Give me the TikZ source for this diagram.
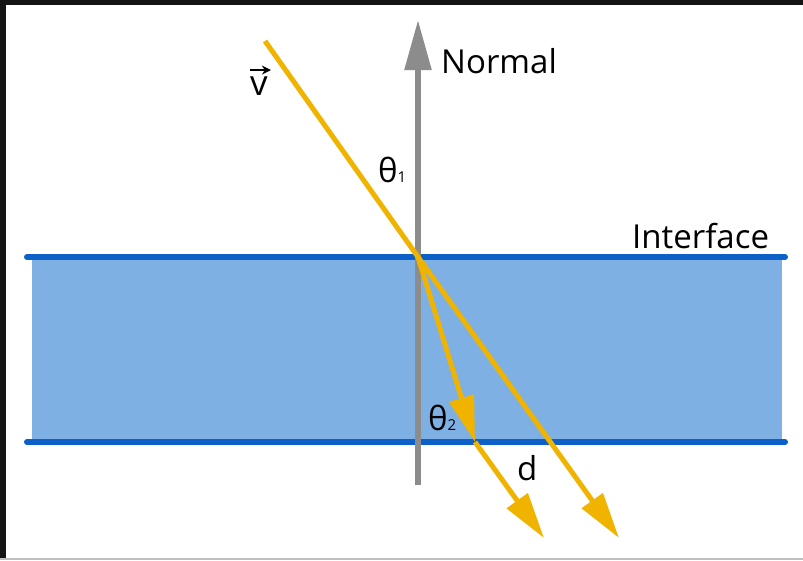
\documentclass[tikz,border=0pt]{standalone}
\usepackage{fontspec}
\setmainfont{Open Sans}
\usetikzlibrary{arrows.meta}
\definecolor{raycol}{RGB}{240,180,0}
\definecolor{slabcol}{RGB}{126,176,228}
\definecolor{ifacecol}{RGB}{12,96,200}
\definecolor{normcol}{RGB}{140,140,140}
\definecolor{framecol}{RGB}{20,20,20}

\begin{document}
\begin{tikzpicture}[x=1pt,y=-1pt,ray/.style={draw=raycol,line width=5pt,-{Triangle[length=46pt,width=25pt]}},iface/.style={draw=ifacecol,line width=6pt,line cap=round},lbl/.style={anchor=base west,inner sep=0pt,font=\fontsize{33}{36}\selectfont}]
\useasboundingbox (0,0) rectangle (803,560);
% frame of the screenshot
\fill[white] (0,0) rectangle (803,560);
\fill[framecol] (0,0) rectangle (803,5);
\fill[framecol] (0,0) rectangle (6,560);
\fill[black!25] (0,558) rectangle (803,560);
% slab and interfaces
\fill[slabcol] (32,257) rectangle (782,442);
\draw[iface] (27,257) -- (785,257);
\draw[iface] (27,442) -- (785,442);
\node[lbl] (iface) at (632,248) {Interface};
% normal
\coordinate (nbot) at (418,485);
\coordinate (ntop) at (418,20);
\draw[normcol,line width=5.5pt,-{Triangle[length=50pt,width=26pt]}] (nbot) -- (ntop);
\node[lbl] (normal) at (441,73) {Normal};
% rays
\coordinate (src) at (265,41);
\coordinate (hit) at (418,257);
\coordinate (exitpt) at (475,442);
\coordinate (tipA) at (544,538);
\coordinate (tipB) at (619,538);
\draw[ray] (src) -- (hit) -- (tipB);
\draw[ray] (hit) -- (exitpt);
\draw[ray] (exitpt) -- (tipA);
% labels
\node[lbl,font=\fontsize{35}{38}\selectfont] (vlbl) at (250,95) {v};
\draw[line width=2pt,-{Stealth[length=9pt,width=9pt]}] ([yshift=6pt]vlbl.north west) -- ([yshift=6pt,xshift=3pt]vlbl.north east);
\node[lbl] (th1) at (378,182) {θ{\fontsize{15}{16}\selectfont 1}};
\node[lbl] (th2) at (428,430) {θ{\fontsize{15}{16}\selectfont 2}};
\node[lbl] (dlbl) at (517,480) {d};
\end{tikzpicture}
\end{document}
